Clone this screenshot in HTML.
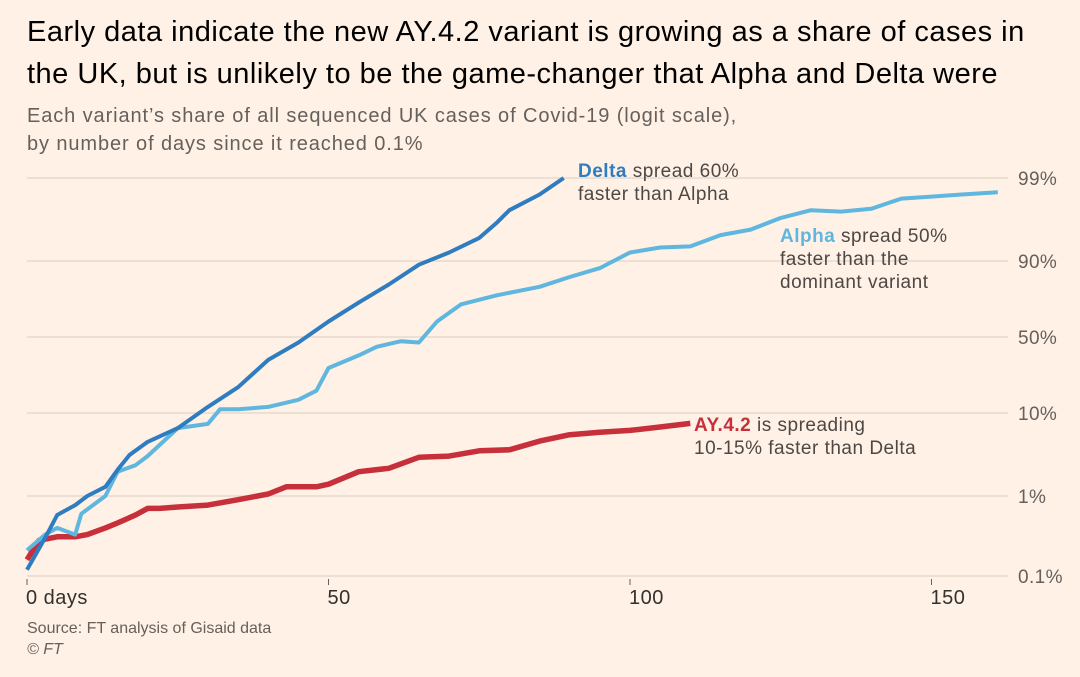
<!DOCTYPE html>
<html><head><meta charset="utf-8"><style>
body{margin:0;background:#FFF1E5;font-family:"Liberation Sans",sans-serif;}
#wrap{position:relative;width:1080px;height:677px;overflow:hidden;background:#FFF1E5;}
.t{position:absolute;color:#33302e;white-space:nowrap;}
</style></head><body>
<div id="wrap">
<div class="t" style="left:27px;top:11px;font-size:29px;letter-spacing:0.5px;line-height:42px;color:#000">Early data indicate the new AY.4.2 variant is growing as a share of cases in<br>the UK, but is unlikely to be the game-changer that Alpha and Delta were</div>
<div class="t" style="left:27px;top:102px;font-size:20px;letter-spacing:0.9px;line-height:28px;color:#66605c">Each variant’s share of all sequenced UK cases of Covid-19 (logit scale),<br>by number of days since it reached 0.1%</div>
<svg id="chart" width="1080" height="677" style="position:absolute;left:0;top:0"></svg>
<div class="t" style="left:27px;top:618px;font-size:16px;line-height:21px;color:#66605c">Source: FT analysis of Gisaid data<br><i>© FT</i></div>
</div>
<script>
const yTicks=[99,90,50,10,1,0.1];
const yTickLabels=["99%","90%","50%","10%","1%","0.1%"];
const xTicks=[0,50,100,150];
const xTickLabels=["0 days","50","100","150"];
const deltaDays=[0,3,5,8,10,13,15,17,20,25,30,35,40,45,50,55,60,65,70,75,78,80,85,89];
const deltaShare=[0.12,0.3,0.58,0.77,1,1.3,2.1,3.2,4.6,6.7,11.7,19,34,46,61,73,82,89,92,94.6,96.5,97.5,98.4,99];
const alphaDays=[0,3,5,8,9,13,15,18,20,25,30,32,35,40,45,48,50,55,58,62,65,68,72,78,85,90,95,100,105,110,115,120,125,130,135,140,145,150,155,161];
const alphaShare=[0.21,0.33,0.4,0.33,0.6,1,2,2.4,3.1,6.7,7.5,11,11,11.7,14,17.5,29,37,43,47,46,61,72,77,81,85,88,92,93,93.2,95,95.7,96.9,97.5,97.4,97.6,98.2,98.3,98.4,98.5];
const ayDays=[0,2,5,8,10,13,15,18,20,22,25,30,35,40,43,48,50,55,60,65,70,75,80,85,90,95,100,105,110];
const ayShare=[0.16,0.28,0.31,0.31,0.33,0.4,0.46,0.58,0.7,0.7,0.73,0.77,0.9,1.06,1.3,1.3,1.4,2,2.2,3,3.1,3.6,3.7,4.7,5.6,6,6.3,6.9,7.6];
const NS='http://www.w3.org/2000/svg';
const svg=document.getElementById('chart');
const x=d=>27+d*6.03;
const y=p=>{const q=p/100;return 337-34.6*Math.log(q/(1-q));};
function mk(tag,attrs){const e=document.createElementNS(NS,tag);for(const k in attrs)e.setAttribute(k,attrs[k]);svg.appendChild(e);return e;}
yTicks.forEach((v,i)=>{
 const l=mk('line',{x1:27,x2:1008,y1:y(v),y2:y(v),stroke:'#e6d9ce','stroke-width':1.5});
 
 
 const t=mk('text',{x:1018,y:y(v)+7,'font-size':19,'letter-spacing':0.4,fill:'#66605c','font-family':'Liberation Sans, sans-serif'});
 t.textContent=yTickLabels[i];
 
 
});
xTicks.forEach((v,i)=>{
 const l=mk('line',{x1:x(v),x2:x(v),y1:579,y2:585,stroke:'#66605c','stroke-width':1});
 
 
 const t=mk('text',{x:x(v)-1,y:604,'font-size':20,'letter-spacing':0.5,fill:'#33302e','font-family':'Liberation Sans, sans-serif'});
 t.textContent=xTickLabels[i];
 
 
});
function line(days,vals,color,name){
 const d=days.map((dd,i)=>(i?'L':'M')+x(dd).toFixed(1)+','+y(vals[i]).toFixed(1)).join(' ');
 const p=mk('path',{d:d,fill:'none',stroke:color,'stroke-width':name==='ay42-line'?5.5:4,'stroke-linejoin':'round'});
 
 
}
line(ayDays,ayShare,'#c7303a','ay42-line');
line(alphaDays,alphaShare,'#5fb6de','alpha-line');
line(deltaDays,deltaShare,'#2f7cc0','delta-line');
function ann(xp,yp,lines,bold,color,name){
 const t=mk('text',{x:xp,y:yp,'font-size':19,'letter-spacing':0.5,fill:'#4d4845','font-family':'Liberation Sans, sans-serif'});
 
 
 lines.forEach((s,i)=>{
  const ts=document.createElementNS(NS,'tspan');ts.setAttribute('x',xp);ts.setAttribute('dy',i?23:0);
  if(i===0){const b=document.createElementNS(NS,'tspan');b.setAttribute('font-weight','bold');b.setAttribute('fill',color);b.textContent=bold;ts.appendChild(b);ts.appendChild(document.createTextNode(s));}
  else ts.textContent=s;
  t.appendChild(ts);
 });
}
ann(578,177,[' spread 60%','faster than Alpha'],'Delta','#2f7cc0','delta-annotation');
ann(780,242,[' spread 50%','faster than the','dominant variant'],'Alpha','#5fb6de','alpha-annotation');
ann(694,431,[' is spreading','10-15% faster than Delta'],'AY.4.2','#c7303a','ay42-annotation');
</script>
</body></html>
